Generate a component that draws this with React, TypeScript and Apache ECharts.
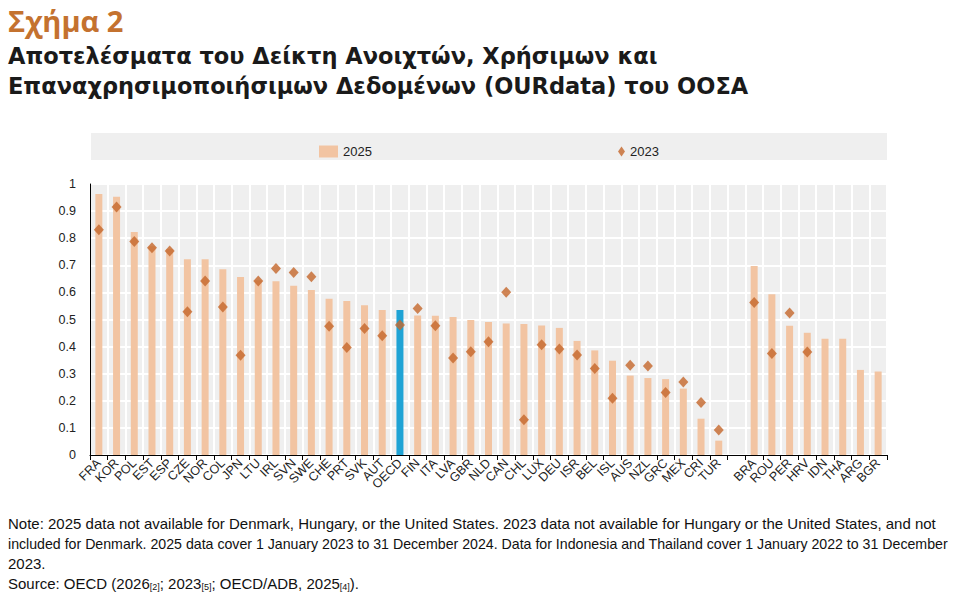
import React, { useEffect, useRef } from "react";
import * as echarts from "echarts";

const categories = [
  "FRA", "KOR", "POL", "EST", "ESP", "CZE", "NOR", "COL", "JPN", "LTU", "IRL", "SVN", "SWE", "CHE",
  "PRT", "SVK", "AUT", "OECD", "FIN", "ITA", "LVA", "GBR", "NLD", "CAN", "CHL", "LUX", "DEU", "ISR",
  "BEL", "ISL", "AUS", "NZL", "GRC", "MEX", "CRI", "TUR", "",
  "BRA", "ROU", "PER", "HRV", "IDN", "THA", "ARG", "BGR",
];

const values2025: (number | null)[] = [
  0.963, 0.953, 0.823, 0.77, 0.76, 0.722, 0.722, 0.685, 0.657, 0.645, 0.641, 0.625, 0.609, 0.577,
  0.568, 0.553, 0.535, 0.535, 0.515, 0.514, 0.509, 0.498, 0.491, 0.485, 0.483, 0.478, 0.469, 0.421,
  0.386, 0.348, 0.293, 0.284, 0.28, 0.245, 0.134, 0.053, null,
  0.697, 0.593, 0.477, 0.451, 0.429, 0.429, 0.314, 0.308,
];

const values2023: (number | null)[] = [
  0.831, 0.915, 0.788, 0.765, 0.753, 0.529, 0.642, 0.546, 0.368, 0.642, 0.688, 0.673, 0.658, 0.475,
  0.397, 0.467, 0.44, 0.48, 0.541, 0.477, 0.358, 0.381, 0.418, 0.601, 0.13, 0.407, 0.391, 0.369,
  0.319, 0.209, 0.331, 0.328, 0.231, 0.269, 0.194, 0.092, null,
  0.563, 0.375, 0.524, 0.38, null, null, null, null,
];

const yTicks = [0, 0.1, 0.2, 0.3, 0.4, 0.5, 0.6, 0.7, 0.8, 0.9, 1];

const BAR = "#f2c4a2";
const HILITE = "#1fa3d5";
const DIAMOND = "#c4672b";

const noteLines = [
  "Note: 2025 data not available for Denmark, Hungary, or the United States. 2023 data not available for Hungary or the United States, and not",
  "included for Denmark. 2025 data cover 1 January 2023 to 31 December 2024. Data for Indonesia and Thailand cover 1 January 2022 to 31 December",
  "2023.",
];
const noteScale = [1.0, 0.945, 1.0];

export default function App() {
  const ref = useRef<HTMLDivElement>(null);
  useEffect(() => {
    document.body.style.margin = "0";
    const chart = echarts.init(ref.current!, null, { renderer: "svg" });
    const noteFont = "'Liberation Sans', Arial, sans-serif";
    chart.setOption({
      animation: false,
      backgroundColor: "#ffffff",
      grid: { left: 90, right: 68, top: 184, bottom: 145, containLabel: false, show: true, backgroundColor: "#efefef", borderWidth: 0 },
      legend: [
        {
          data: [{ name: "2025", icon: "rect" }],
          left: 314, top: 140, itemWidth: 19, itemHeight: 12, itemGap: 10,
          textStyle: { fontFamily: noteFont, fontSize: 13, color: "#222" },
          selectedMode: false,
        },
        {
          data: [{ name: "2023", icon: "diamond" }],
          left: 613, top: 140, itemWidth: 7, itemHeight: 10, itemGap: 4,
          textStyle: { fontFamily: noteFont, fontSize: 13, color: "#222" },
          selectedMode: false,
        },
      ],
      xAxis: {
        type: "category",
        data: categories,
        boundaryGap: true,
        axisLine: { show: true, lineStyle: { color: "#000", width: 1 } },
        axisTick: { show: true, length: 5, lineStyle: { color: "#000" }, interval: 0 },
        splitLine: { show: true, interval: 0, lineStyle: { color: "#ffffff", width: 2 } },
        axisLabel: { interval: 0, rotate: 45, fontSize: 12.5, color: "#222", margin: 6, fontFamily: noteFont },
      },
      yAxis: {
        type: "value",
        min: 0,
        max: 1,
        interval: 0.1,
        axisLine: { show: true, lineStyle: { color: "#000", width: 1 } },
        axisTick: { show: false },
        splitLine: { show: true, lineStyle: { color: "#ffffff", width: 2 } },
        axisLabel: {
          fontSize: 12.5, color: "#222", margin: 14, fontFamily: noteFont,
          formatter: (v: number) => (yTicks.includes(Math.round(v * 10) / 10) ? (v === 0 ? "0" : v === 1 ? "1" : v.toFixed(1)) : ""),
        },
      },
      series: [
        {
          name: "2025",
          type: "bar",
          barWidth: 7,
          itemStyle: { color: BAR },
          data: values2025.map((v, i) => ({ value: v, itemStyle: { color: categories[i] === "OECD" ? HILITE : BAR } })),
          z: 2,
        },
        {
          name: "2023",
          type: "scatter",
          symbol: "diamond",
          symbolSize: [10, 11],
          itemStyle: { color: DIAMOND },
          data: values2023,
          z: 3,
        },
      ],
      graphic: [
        { type: "rect", shape: { x: 91, y: 133, width: 796, height: 27 }, style: { fill: "#efefef" }, z: -10, silent: true },
        { type: "text", left: 8, top: 6, style: { text: "Σχήμα 2", font: "bold 29px 'Open Sans', 'Noto Sans', sans-serif", fill: "#c4722f" } },
        { type: "text", left: 8, top: 44, style: { text: "Αποτελέσματα του Δείκτη Ανοιχτών, Χρήσιμων και", font: "bold 22.5px 'DejaVu Sans', sans-serif", fill: "#1a1a1a" } },
        { type: "text", left: 8, top: 74, style: { text: "Επαναχρησιμοποιήσιμων Δεδομένων (OURdata) του ΟΟΣΑ", font: "bold 22.5px 'DejaVu Sans', sans-serif", fill: "#1a1a1a" } },
        ...noteLines.map((t, i) => ({
          type: "text", x: 8, y: 516 + i * 20, scaleX: noteScale[i],
          style: { text: t, font: `15px ${noteFont}`, fill: "#111" },
        })),
        {
          type: "text", left: 8, top: 576,
          style: {
            text: "Source: OECD (2026{s|[2]}; 2023{s|[5]}; OECD/ADB, 2025{s|[4]}).",
            font: `15px ${noteFont}`, fill: "#111",
            rich: { s: { fontSize: 9, fontFamily: noteFont, verticalAlign: "bottom", padding: [6, 0, 0, 0], fill: "#111" } },
          },
        },
      ],
    });
    return () => chart.dispose();
  }, []);
  return <div ref={ref} style={{ width: 955, height: 600 }} />;
}
